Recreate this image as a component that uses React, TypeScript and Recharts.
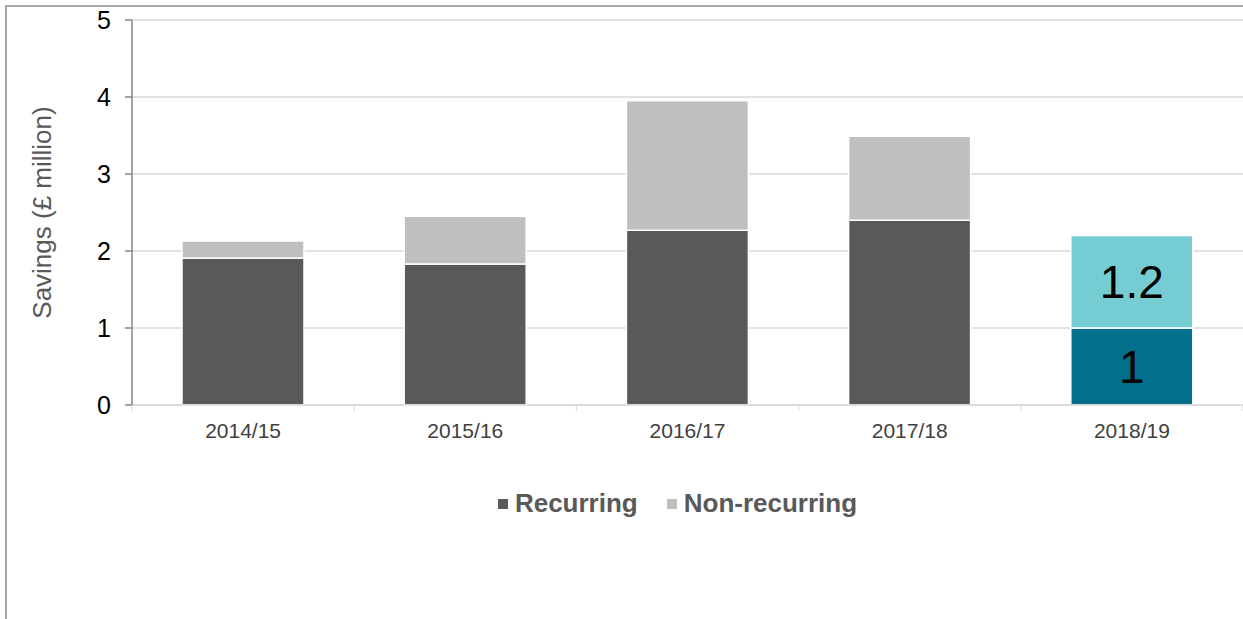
import React from 'react'
import { BarChart, Bar, XAxis, YAxis, CartesianGrid, Legend, LabelList, Label, Cell } from 'recharts'

const categories = ['2014/15', '2015/16', '2016/17', '2017/18', '2018/19']
const recurring = [1.91, 1.83, 2.27, 2.4, 1.0]
const nonRecurring = [0.22, 0.62, 1.68, 1.09, 1.2]
const recurringLabels = ['', '', '', '', '1']
const nonRecurringLabels = ['', '', '', '', '1.2']
const seriesNames = ['Recurring', 'Non-recurring']
const yTicks = [0, 1, 2, 3, 4, 5]

const W = 1243
const H = 619
const Y_AXIS_W = 132
const BAND = (W - Y_AXIS_W) / categories.length
const FONT = 'Arial, "Liberation Sans", sans-serif'

const GREY_DARK = '#595959'
const GREY_LIGHT = '#bfbfbf'
const TEAL_DARK = '#02708c'
const TEAL_LIGHT = '#75cdd3'
const legendColors = [GREY_DARK, GREY_LIGHT]

const data = categories.map((name, i) => ({
  name,
  recurring: recurring[i],
  nonRecurring: nonRecurring[i],
  recLabel: recurringLabels[i],
  nonRecLabel: nonRecurringLabels[i],
}))

const XTick = (props: any) => {
  const { x, y, payload, index } = props
  const last = index === categories.length - 1
  return (
    <g>
      <line x1={x - BAND / 2} x2={x - BAND / 2} y1={y} y2={y + 6} stroke="#d9d9d9" />
      {last && <line x1={x + BAND / 2 - 1} x2={x + BAND / 2 - 1} y1={y} y2={y + 6} stroke="#d9d9d9" />}
      <text x={x} y={y + 18} dy="0.71em" textAnchor="middle" fontSize={21} fill="#404040" fontFamily={FONT}>
        {payload.value}
      </text>
    </g>
  )
}

// legend kept in series order (recharts sorts it by name otherwise)
const renderLegend = () => (
  <div style={{ display: 'flex', justifyContent: 'center', gap: 29, fontFamily: FONT, marginLeft: 112 }}>
    {seriesNames.map((name, i) => (
      <div key={name} style={{ display: 'flex', alignItems: 'center' }}>
        <span style={{ width: 10, height: 10, background: legendColors[i], display: 'inline-block', marginRight: 7 }} />
        <span style={{ fontSize: 26, fontWeight: 'bold', color: GREY_DARK }}>{name}</span>
      </div>
    ))}
  </div>
)

export default function App() {
  return (
    <div style={{ position: 'absolute', left: 0, top: 0, width: W, height: H, background: '#fff' }}>
      <div
        style={{
          position: 'absolute',
          left: 5,
          top: 5,
          right: 0,
          bottom: 0,
          borderLeft: '2px solid #a6a6a6',
          borderTop: '2px solid #a6a6a6',
        }}
      />
      <BarChart
        width={W}
        height={H}
        data={data}
        margin={{ top: 20, right: 0, left: 0, bottom: 144 }}
        barCategoryGap="22.5%"
        style={{ position: 'absolute', left: 0, top: 0 }}
      >
        <CartesianGrid vertical={false} stroke="#d9d9d9" strokeWidth={1.5} />
        <XAxis
          dataKey="name"
          height={40}
          stroke="#d9d9d9"
          strokeWidth={1.5}
          tickLine={false}
          tickSize={0}
          tickMargin={0}
          tick={<XTick />}
          interval={0}
        />
        <YAxis
          width={Y_AXIS_W}
          domain={[0, 5]}
          ticks={yTicks}
          interval={0}
          stroke="#868686"
          strokeWidth={1.5}
          tickSize={7}
          tickMargin={14}
          tick={{ fontSize: 25, fill: '#000', fontFamily: FONT }}
        >
          <Label
            content={(p: any) => {
              const vb = p.viewBox || { x: 0, y: 20, height: 385 }
              const cx = vb.x + 42
              const cy = vb.y + vb.height / 2
              return (
                <text
                  x={cx}
                  y={cy}
                  transform={`rotate(-90 ${cx} ${cy})`}
                  textAnchor="middle"
                  dominantBaseline="central"
                  fontSize={26}
                  fill={GREY_DARK}
                  fontFamily={FONT}
                >
                  Savings (£ million)
                </text>
              )
            }}
          />
        </YAxis>
        <Legend
          verticalAlign="bottom"
          content={renderLegend}
          wrapperStyle={{ top: 488, left: 0, width: W, height: 30 }}
        />
        <Bar dataKey="recurring" name="Recurring" stackId="s" fill={GREY_DARK} stroke="#fff" strokeWidth={1.5} isAnimationActive={false}>
          {data.map((_, i) => (
            <Cell key={i} fill={i === data.length - 1 ? TEAL_DARK : GREY_DARK} />
          ))}
          <LabelList dataKey="recLabel" position="center" fontSize={46} fill="#000" fontFamily={FONT} />
        </Bar>
        <Bar dataKey="nonRecurring" name="Non-recurring" stackId="s" fill={GREY_LIGHT} stroke="#fff" strokeWidth={1.5} isAnimationActive={false}>
          {data.map((_, i) => (
            <Cell key={i} fill={i === data.length - 1 ? TEAL_LIGHT : GREY_LIGHT} />
          ))}
          <LabelList dataKey="nonRecLabel" position="center" fontSize={46} fill="#000" fontFamily={FONT} />
        </Bar>
      </BarChart>
    </div>
  )
}
